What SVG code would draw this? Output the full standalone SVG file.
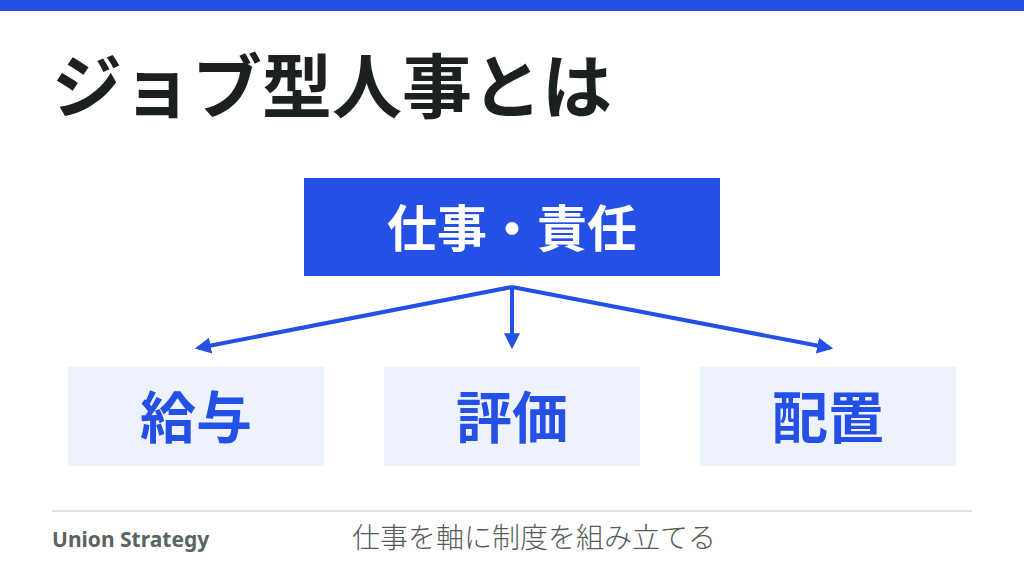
<svg xmlns="http://www.w3.org/2000/svg" width="1024" height="576" viewBox="0 0 1024 576">
<style>
.cjk{font-family:"Noto Sans CJK JP","Noto Sans",sans-serif}
.sub{fill:#eef2fd}
.subt{fill:#2550e6;font-weight:700;font-size:56px;text-anchor:middle}
.conn{stroke:#2550e6;stroke-width:4;fill:none}
</style>
<defs>
<marker id="ah" viewBox="0 0 10 10" refX="8" refY="5" markerWidth="4" markerHeight="4" orient="auto" markerUnits="strokeWidth">
<path d="M0,0 L10,5 L0,10 z" fill="#2550e6"/>
</marker>
</defs>
<rect width="1024" height="576" fill="#ffffff"/>
<rect x="0" y="0" width="1024" height="11" fill="#2550e6"/>
<text class="cjk" x="52" y="113" font-size="70" font-weight="700" fill="#1a211e">ジョブ型人事とは</text>
<g id="node-main">
<rect x="304" y="178" width="416" height="98" fill="#2550e6"/>
<text class="cjk" x="512" y="247" font-size="50" font-weight="700" fill="#ffffff" text-anchor="middle">仕事・責任</text>
</g>
<g id="connectors">
<line class="conn" x1="512" y1="287" x2="198" y2="348" marker-end="url(#ah)"/>
<line class="conn" x1="512" y1="287" x2="512" y2="346" marker-end="url(#ah)"/>
<line class="conn" x1="512" y1="287" x2="830" y2="348" marker-end="url(#ah)"/>
</g>
<g id="node-kyuyo">
<rect class="sub" x="68" y="367" width="256" height="99"/>
<text class="cjk subt" x="196" y="438">給与</text>
</g>
<g id="node-hyoka">
<rect class="sub" x="384" y="367" width="256" height="99"/>
<text class="cjk subt" x="512" y="438">評価</text>
</g>
<g id="node-haichi">
<rect class="sub" x="700" y="367" width="256" height="99"/>
<text class="cjk subt" x="828" y="438">配置</text>
</g>
<line x1="52" y1="511" x2="972" y2="511" stroke="#dddddd" stroke-width="1.5"/>
<text x="52" y="547" font-family="'Noto Sans',sans-serif" font-size="21" font-weight="700" fill="#5a6460">Union Strategy</text>
<text class="cjk" x="352" y="548" font-size="28" font-weight="300" fill="#555a58">仕事を軸に制度を組み立てる</text>
</svg>
